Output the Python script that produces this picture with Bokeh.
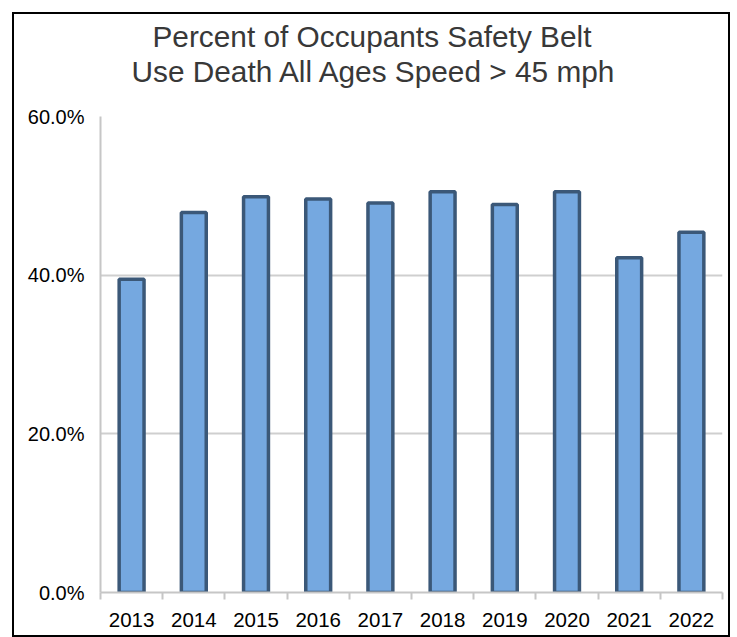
from bokeh.plotting import figure
from bokeh.models import Range1d, FixedTicker, PrintfTickFormatter, Title, LinearAxis
from bokeh.embed import file_html
from bokeh.resources import INLINE

# ---- data ----
years = ["2013", "2014", "2015", "2016", "2017", "2018", "2019", "2020", "2021", "2022"]
belt_use_pct = [39.5, 47.9, 49.9, 49.6, 49.1, 50.5, 48.9, 50.5, 42.2, 45.4]
y_ticks = [0, 20, 40, 60]
title_lines = ["Percent of Occupants Safety Belt", "Use Death All Ages Speed > 45 mph"]

idx = list(range(len(years)))

p = figure(width=718, height=625, output_backend="svg", toolbar_location=None,
           x_range=Range1d(-0.5, len(years) - 0.5), y_range=Range1d(0, 60),
           min_border_left=86, min_border_right=10, min_border_top=102, min_border_bottom=47)
p.styles = {"margin-left": "12px", "margin-top": "12px", "border": "2px solid black"}
p.outline_line_color = None
p.background_fill_color = "white"
p.border_fill_color = "white"

p.vbar(x=idx, top=belt_use_pct, width=0.40, bottom=0,
       fill_color="#75A8E0", line_color="#3B5878", line_width=3.5)

# y axis
p.yaxis.ticker = FixedTicker(ticks=y_ticks)
p.yaxis.formatter = PrintfTickFormatter(format="%.1f%%")
p.yaxis.major_tick_line_color = None
p.yaxis.major_tick_out = 0
p.yaxis.major_tick_in = 0
p.yaxis.minor_tick_line_color = None
p.yaxis.axis_line_color = "#C6C6C6"
p.yaxis.axis_line_width = 2
p.yaxis.major_label_text_font = "Liberation Sans"
p.yaxis.major_label_text_font_size = "20px"
p.yaxis.major_label_text_color = "black"
p.yaxis.major_label_standoff = 16
p.ygrid.grid_line_color = "#CFCFCF"
p.ygrid.grid_line_width = 2
p.xgrid.grid_line_color = None

# x axis: labels at category centres, tick marks at category boundaries
p.xaxis.ticker = FixedTicker(ticks=idx, minor_ticks=[i - 0.5 for i in range(len(years) + 1)])
p.xaxis.major_label_overrides = {i: y for i, y in enumerate(years)}
p.xaxis.major_tick_line_color = None
p.xaxis.major_tick_out = 0
p.xaxis.major_tick_in = 0
p.xaxis.minor_tick_line_color = "#C6C6C6"
p.xaxis.minor_tick_line_width = 2
p.xaxis.minor_tick_out = 7
p.xaxis.minor_tick_in = 0
p.xaxis.axis_line_color = "#C6C6C6"
p.xaxis.axis_line_width = 2
p.xaxis.major_label_text_font = "Liberation Sans"
p.xaxis.major_label_text_font_size = "20.5px"
p.xaxis.major_label_text_color = "black"
p.xaxis.major_label_standoff = 13

# invisible spacer between the title and the plot area
spacer = LinearAxis(ticker=FixedTicker(ticks=[4.5]), axis_line_color=None,
                    major_tick_line_color=None, minor_tick_line_color=None,
                    major_tick_out=29, major_tick_in=0, minor_tick_out=0,
                    major_label_standoff=0, major_label_overrides={4.5: ""},
                    major_label_text_font_size="0px", major_label_text_alpha=0)
p.add_layout(spacer, "above")

# two-line title (second line added first so it sits nearest the plot)
offsets = [52, 31]
standoffs = [0, 0]
for i in [1, 0]:
    p.add_layout(Title(text=title_lines[i], align="left", offset=offsets[i],
                       standoff=standoffs[i], text_font="Liberation Sans",
                       text_font_size="29.8px", text_font_style="normal",
                       text_line_height=1.0, text_color="#383838"), "above")

open("out.html", "w").write(file_html(p, INLINE))
